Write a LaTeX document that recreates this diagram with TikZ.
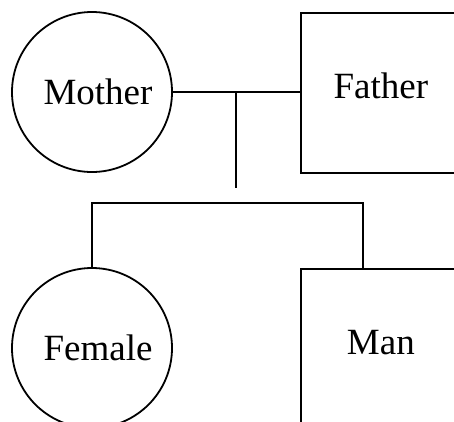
\documentclass[tikz,border=0pt]{standalone}
\usepackage{fontspec}
\setmainfont{Liberation Serif}
\usetikzlibrary{positioning}
\tikzset{
  person/.style={
    draw, line width=1.8pt, align=center, inner sep=0pt,
    font=\fontsize{37}{40}\selectfont
  },
  female/.style={person, circle, minimum size=160pt},
  male/.style={person, rectangle, minimum size=160pt, text depth=14pt},
  tie/.style={line width=1.8pt},
}

\begin{document}
\begin{tikzpicture}[x=1pt, y=-1pt]
  \useasboundingbox (0,0) rectangle (454,421);
  \clip (0,0) rectangle (454,421);
  \node[female] (mother) at (92,92) {\hspace*{12pt}Mother};
  \node[male, anchor=north west] (father) at (300,12) {Father};
  \node[female] (female) at (92,348) {\hspace*{12pt}Female};
  \node[male, anchor=north west] (man) at (300,268) {Man};
  \coordinate (kids) at (236,188);
  \draw[tie] (mother.east) -- (mother.east -| father.west);
  \draw[tie] (mother -| kids) -- (kids);
  \draw[tie] (female.north) -- ++(0,-64) -| ([xshift=63pt]man.north west);
\end{tikzpicture}
\end{document}
